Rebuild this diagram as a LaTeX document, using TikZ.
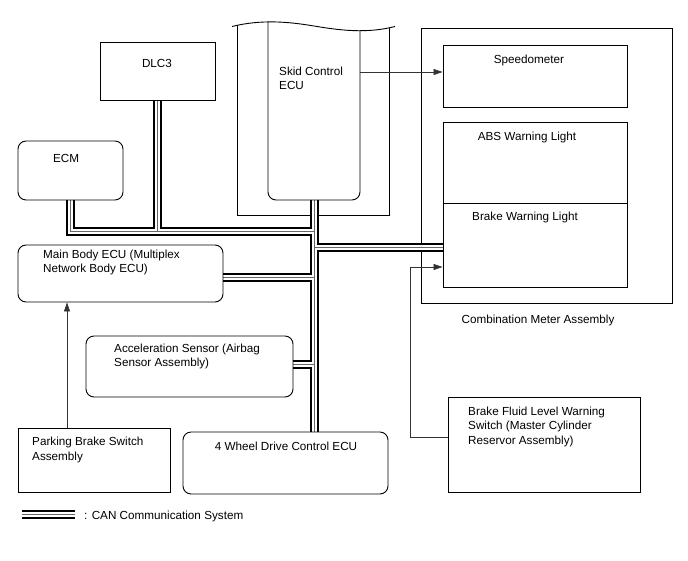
\documentclass[tikz,border=0pt]{standalone}
\usepackage{fontspec}
\setmainfont{Liberation Sans}
\usetikzlibrary{positioning,arrows.meta,backgrounds}

\begin{document}
\begin{tikzpicture}[x=1pt, y=-1pt,
      box/.style={draw, line width=0.9pt, inner sep=0pt},
      rbox/.style={box, rounded corners=8pt},
      txt/.style={inner sep=0pt, align=left, font=\fontsize{11.7}{14.5}\selectfont},
      arr/.style={-{Triangle[length=9pt,width=6pt]}, line width=0.7pt, draw=black!80}
    ]
      \useasboundingbox (0,0) rectangle (688,560);

      \node[box,  minimum width=115pt, minimum height=58pt] (dlc)      at (157.5,71)   {};
      \node[rbox, minimum width=105pt, minimum height=59pt] (ecm)      at (70.5,170.5) {};
      \node[minimum width=92pt, minimum height=178pt]       (skid)     at (314,111)    {};
      \node[box,  minimum width=184pt, minimum height=62pt] (speedo)   at (535,76)     {};
      \node[box,  minimum width=184pt, minimum height=81pt] (abs)      at (535,162.5)  {};
      \node[box,  minimum width=184pt, minimum height=84pt] (brake)    at (535,245)    {};
      \node[rbox, minimum width=205pt, minimum height=57pt] (mainbody) at (120.5,273.5) {};
      \node[rbox, minimum width=207pt, minimum height=61pt] (accel)    at (189.5,366.5) {};
      \node[box,  minimum width=152pt, minimum height=64pt] (park)     at (94,460)     {};
      \node[rbox, minimum width=205pt, minimum height=62pt] (fourwd)   at (285.5,463)  {};
      \node[box,  minimum width=192pt, minimum height=95pt] (fluid)    at (544,444.5)  {};

      \node[txt, anchor=base] (dlctxt) at (157,67.5)  {DLC3};
      \node[txt, anchor=base] (ecmtxt) at (66,162.2)  {ECM};
      \node[txt, anchor=north west] (skidtxt) at (279,66.7) {Skid Control\\ECU};
      \node[txt, anchor=base] (spdtxt) at (529,63.2)  {Speedometer};
      \node[txt, anchor=base] (abstxt) at (527,140.2) {ABS Warning Light};
      \node[txt, anchor=base] (bwltxt) at (525,220.2) {Brake Warning Light};
      \node[txt, anchor=base] (cmbtxt) at (538,323.2) {Combination Meter Assembly};
      \node[txt, anchor=north west] (mbtxt)  at (43,249.7)  {Main Body ECU (Multiplex\\Network Body ECU)};
      \node[txt, anchor=north west] (acctxt) at (114,343.7) {Acceleration Sensor (Airbag\\Sensor Assembly)};
      \node[txt, anchor=north west] (parktxt) at (32,437)   {Parking Brake Switch\\Assembly};
      \node[txt, anchor=base] (fwdtxt) at (286,450.2) {4 Wheel Drive Control ECU};
      \node[txt, anchor=north west] (fluidtxt) at (468,406.7) {Brake Fluid Level Warning\\Switch (Master Cylinder\\Reservor Assembly)};
      \node[txt, anchor=base west] (cantxt) at (84,519) {: CAN Communication System};

      \coordinate (ja) at (314,231);
      \coordinate (jb) at (314,247);
      \coordinate (jc) at (314,277);
      \coordinate (jd) at (314,364);
      \coordinate (lga) at (22,514);
      \coordinate (lgb) at (75,514);

      \begin{scope}[on background layer]
        \node[box, minimum width=251pt, minimum height=275pt] (meter) at (546.5,165.5) {};
        \begin{scope}
          \clip (232,26.5) .. controls (262,19) and (290,22) .. (314,26)
                .. controls (338,30) and (366,34) .. (395,26.5) -- (395,240) -- (232,240) -- cycle;
          \draw[line width=0.9pt] (237,10) -- (237,215) -- (389,215) -- (389,10);
        \end{scope}
        \foreach \w/\c in {9pt/black, 5pt/white, 0.9pt/black!60}{
          \draw[line width=\w, draw=\c] (skid.south) -- (skid.south |- fourwd.north);
          \draw[line width=\w, draw=\c] (ecm.south) |- (ja);
          \draw[line width=\w, draw=\c] (dlc.south) -- (dlc.south |- ja);
          \draw[line width=\w, draw=\c] (jb) -- (jb -| brake.west);
          \draw[line width=\w, draw=\c] (mainbody.east |- jc) -- (jc);
          \draw[line width=\w, draw=\c] (accel.east |- jd) -- (jd);
          \draw[line width=\w, draw=\c] (lga) -- (lgb);
        }
      \end{scope}

      \begin{scope}
        \clip (232,26.5) .. controls (262,19) and (290,22) .. (314,26)
              .. controls (338,30) and (366,34) .. (395,26.5) -- (395,240) -- (232,240) -- cycle;
        \draw[line width=0.9pt, rounded corners=8pt] (268,10) -- (268,200) -- (360,200) -- (360,10);
      \end{scope}
      \draw[line width=0.9pt] (232,26.5) .. controls (262,19) and (290,22) .. (314,26)
            .. controls (338,30) and (366,34) .. (395,26.5);

      \draw[arr] ([yshift=4pt]speedo.west -| skid.east) -- ([yshift=4pt]speedo.west);
      \draw[arr] ([xshift=-27pt]park.north) -- ([xshift=-27pt]park.north |- mainbody.south);
      \draw[arr] ([yshift=7.5pt]fluid.west) -- ++(-37,0) |- ([yshift=-22pt]brake.west);
    \end{tikzpicture}
\end{document}
